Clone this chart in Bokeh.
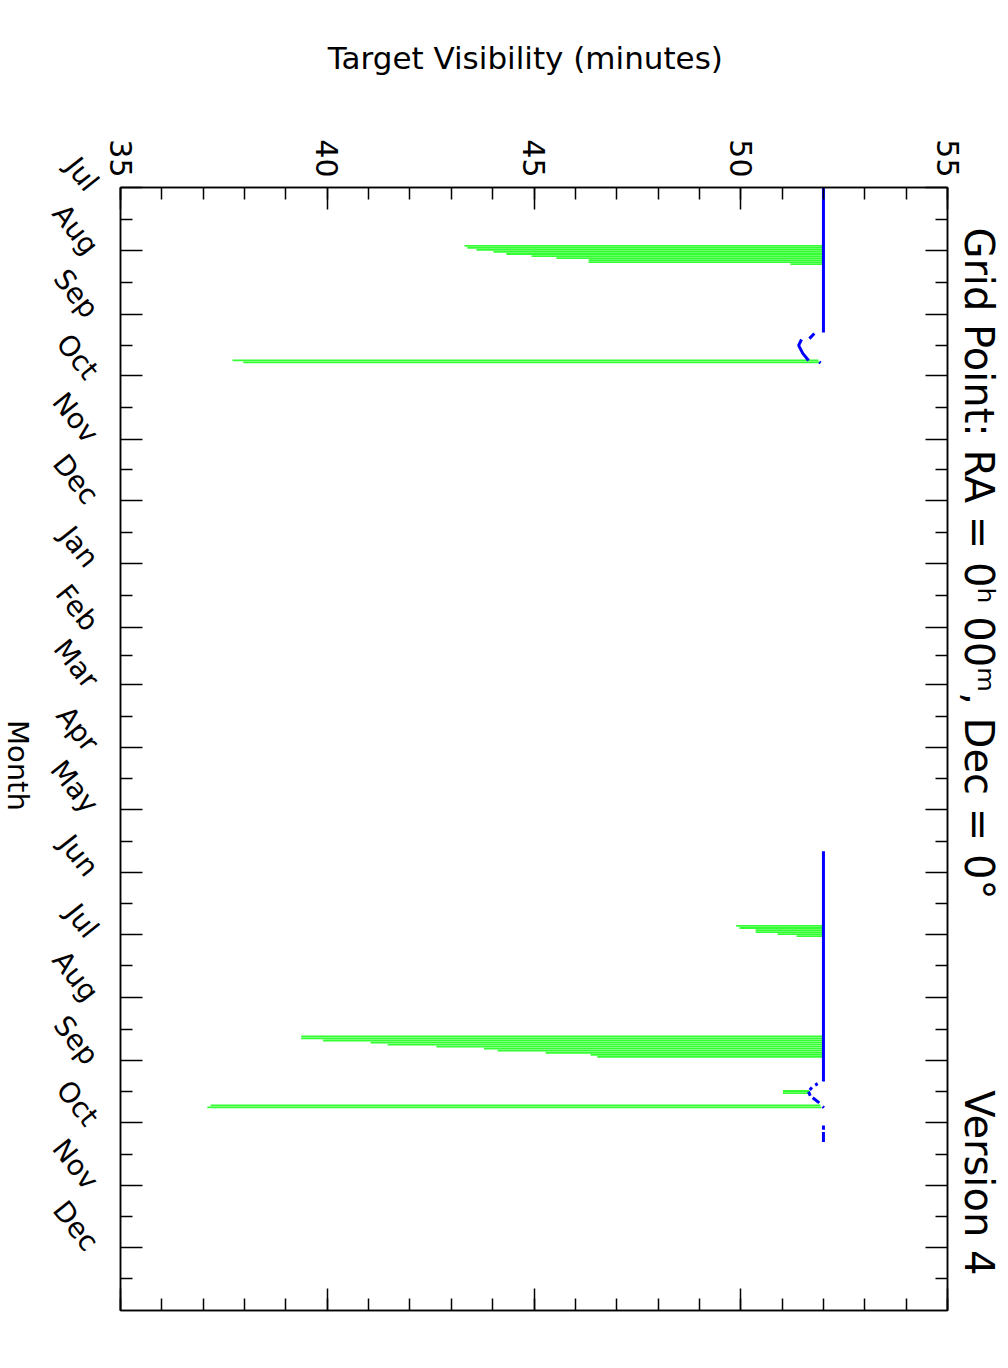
import math
from bokeh.plotting import figure
from bokeh.models import Range1d, LinearAxis, FixedTicker, Label
from bokeh.embed import file_html
from bokeh.resources import INLINE

# ---- axis definitions ----
month_names = ["Jul", "Aug", "Sep", "Oct", "Nov", "Dec", "Jan", "Feb", "Mar",
               "Apr", "May", "Jun", "Jul", "Aug", "Sep", "Oct", "Nov", "Dec"]
month_days = [0, 31, 62, 92, 123, 153, 184, 215, 243, 274, 304, 335,
              365, 396, 427, 457, 488, 518]
end_day = 549
vis_ticks = [35, 40, 45, 50, 55]
vis_minor = list(range(35, 56))

# ---- green visibility bars (day, lower value, upper value) ----
green_day = [28.5, 29.5, 30.5, 31.5, 32.5, 33.5, 34.5, 35.5, 36.5, 37.5,
             84.5, 85.5,
             361.0, 362.0, 363.0, 364.0, 365.0, 366.0,
             415, 416, 417, 418, 419, 420, 421, 422, 423, 424, 425,
             441.7, 442.7, 448.7, 449.7]
green_lo = [43.32, 43.39, 43.61, 44.02, 44.33, 44.94, 45.54, 46.32, 46.32, 51.20,
            37.71, 37.97,
            49.89, 49.97, 50.36, 50.36, 50.89, 51.35,
            39.37, 39.37, 39.90, 41.05, 41.46, 42.64, 43.79, 44.12, 45.28, 46.37, 46.53,
            51.02, 51.02, 37.18, 37.10]
green_hi = [52.0, 52.0, 52.0, 52.0, 52.0, 52.0, 52.0, 52.0, 52.0, 52.0,
            51.88, 51.92,
            52.0, 52.0, 52.0, 52.0, 52.0, 52.0,
            52.0, 52.0, 52.0, 52.0, 52.0, 52.0, 52.0, 52.0, 52.0, 52.0, 52.0,
            51.66, 51.64, 51.93, 51.95]

# ---- blue curve (NaN = gap) ----
nan = float("nan")
blue_day = [0, 70.9, nan,
            71.4, 73.9, nan,
            74.3, 77.2, 81.1, 84.6, nan,
            85.3, 85.8, nan,
            324.5, 437.0, nan,
            438.1, 438.8, nan,
            439.9, 441.2, nan,
            442.0, 444.0, nan,
            445.0, 447.5, nan,
            449.3, 449.9, nan,
            458.5, 460.6, nan,
            461.7, 466.6]
blue_val = [52.0, 52.0, nan,
            51.78, 51.66, nan,
            51.47, 51.40, 51.50, 51.64, nan,
            51.90, 51.93, nan,
            52.0, 52.0, nan,
            51.86, 51.80, nan,
            51.72, 51.67, nan,
            51.64, 51.68, nan,
            51.74, 51.90, nan,
            51.98, 52.01, nan,
            52.0, 52.0, nan,
            52.0, 52.0]

title_text = "Grid Point: RA = 0\u02b0 00\u1d50, Dec = 0\u00b0"
version_text = "Version 4"

FONT = "DejaVu Sans"

p = figure(width=1008, height=1360,
           x_range=Range1d(35, 55), y_range=Range1d(end_day, 0),
           x_axis_location="above",
           output_backend="svg", toolbar_location=None,
           min_border_left=120, min_border_top=187,
           min_border_right=61, min_border_bottom=50)
p.xgrid.visible = False
p.ygrid.visible = False
p.outline_line_color = "black"
p.outline_line_width = 1.5
p.background_fill_color = "white"
p.border_fill_color = "white"

# green bars
p.segment(x0=green_lo, y0=green_day, x1=green_hi, y1=green_day,
          line_color="#33ff33", line_width=1.8)
# blue curve
p.line(x=blue_val, y=blue_day, line_color="#0000ff", line_width=3)

mid_days = [(a + b) / 2 for a, b in zip(month_days, month_days[1:] + [end_day])]


def style_axis(ax):
    ax.axis_line_color = "black"
    ax.axis_line_width = 1.5
    ax.major_tick_line_color = "black"
    ax.minor_tick_line_color = "black"
    ax.major_tick_line_width = 1.5
    ax.minor_tick_line_width = 1.5
    ax.major_tick_in = 22
    ax.major_tick_out = 0
    ax.minor_tick_in = 12
    ax.minor_tick_out = 0
    ax.major_label_text_font = FONT
    ax.major_label_text_color = "black"


# top axis (visibility)
xa = p.xaxis[0]
xa.ticker = FixedTicker(ticks=vis_ticks, minor_ticks=vis_minor)
style_axis(xa)
xa.major_label_orientation = -math.pi / 2
xa.major_label_text_font_size = "30px"
xa.major_label_standoff = 10

# left axis (months)
ya = p.yaxis[0]
ya.ticker = FixedTicker(ticks=month_days, minor_ticks=mid_days)
ya.major_label_overrides = {d: n for d, n in zip(month_days, month_names)}
style_axis(ya)
ya.major_label_orientation = -0.9
ya.major_label_text_font_size = "28px"
ya.major_label_standoff = 28

# mirrored axes
bx = LinearAxis(ticker=FixedTicker(ticks=vis_ticks, minor_ticks=vis_minor))
style_axis(bx)
bx.major_label_text_font_size = "0px"
bx.major_label_standoff = 0
p.add_layout(bx, "below")

ry = LinearAxis(ticker=FixedTicker(ticks=month_days, minor_ticks=mid_days))
style_axis(ry)
ry.major_label_text_font_size = "0px"
ry.major_label_standoff = 0
p.add_layout(ry, "right")

# text labels: positioned in data units, hosted in side panels so they are not clipped
p.add_layout(Label(x=44.79, y=-63.5, text="Target Visibility (minutes)",
                   text_font=FONT, text_font_size="31px", text_color="black",
                   text_align="center", text_baseline="middle"), "above")
p.add_layout(Label(x=32.53, y=282.5, text="Month", angle=-math.pi / 2,
                   text_font=FONT, text_font_size="29px", text_color="black",
                   text_align="center", text_baseline="middle"), "above")
# title and version share the right-hand margin (one line, separated by fixed spaces)
p.add_layout(Label(x=55.75, y=19.5,
                   text=title_text + "\u00a0" * 15 + version_text,
                   angle=-math.pi / 2,
                   text_font=FONT, text_font_size="40px", text_color="black",
                   text_align="left", text_baseline="middle"), "right")

open("out.html", "w").write(file_html(p, INLINE))
